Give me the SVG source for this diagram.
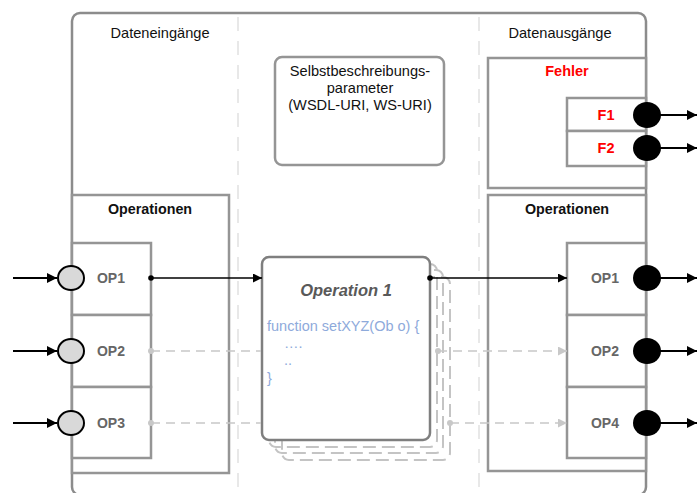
<svg xmlns="http://www.w3.org/2000/svg" width="697" height="493" viewBox="0 0 697 493">
  <defs>
    <style>
      text { font-family: "Liberation Sans", Arial, sans-serif; }
      .frame { fill: #ffffff; stroke: #8c8c8c; stroke-width: 2.5; }
      .box { fill: #ffffff; stroke: #959595; stroke-width: 2.5; }
      .divider { stroke: #e8e8e8; stroke-width: 2; stroke-dasharray: 14 10; fill: none; }
      .head { font-size: 14.6px; fill: #111111; text-anchor: middle; }
      .title { font-size: 14.3px; font-weight: bold; fill: #111111; text-anchor: middle; }
      .err { font-size: 14.5px; font-weight: bold; fill: #ff0000; text-anchor: middle; }
      .op { font-size: 14px; font-weight: bold; fill: #666666; text-anchor: middle; }
      .code { font-size: 14.5px; fill: #8eaadb; }
      .port-in { fill: #d9d9d9; stroke: #000000; stroke-width: 2; }
      .port-out { fill: #000000; }
      .io { stroke: #000000; stroke-width: 2; fill: none; }
      .flow { stroke: #000000; stroke-width: 1.3; fill: none; }
      .flow-dash { stroke: #c8c8c8; stroke-width: 1.5; stroke-dasharray: 9 6; fill: none; }
      .shadow { fill: none; stroke: #c4c4c4; stroke-width: 2; stroke-dasharray: 13 6; }
    </style>
    <marker id="arrowBlack" viewBox="0 0 10 10" refX="10" refY="5" markerWidth="9" markerHeight="9" markerUnits="userSpaceOnUse" orient="auto">
      <path d="M0,0 L10,5 L0,10 Z" fill="#000000"/>
    </marker>
    <marker id="arrowIo" viewBox="0 0 10 10" refX="10" refY="5" markerWidth="10" markerHeight="10" markerUnits="userSpaceOnUse" orient="auto">
      <path d="M0,0 L10,5 L0,10 Z" fill="#000000"/>
    </marker>
    <marker id="arrowGrey" viewBox="0 0 10 10" refX="10" refY="5" markerWidth="9" markerHeight="9" markerUnits="userSpaceOnUse" orient="auto">
      <path d="M0,0 L10,5 L0,10 Z" fill="#c8c8c8"/>
    </marker>
    <circle id="dotBlack" r="2.8" fill="#000000"/>
    <circle id="dotGrey" r="3" fill="#c8c8c8"/>
  </defs>

  <rect width="697" height="493" fill="#ffffff"/>

  <!-- outer service frame -->
  <g id="service">
    <rect class="frame" x="72" y="13" width="574" height="482" rx="8"/>
    <line class="divider" x1="238" y1="17" x2="238" y2="490"/>
    <line class="divider" x1="479" y1="17" x2="479" y2="490"/>
    <text class="head" x="160" y="38">Dateneingänge</text>
    <text class="head" x="560" y="38">Datenausgänge</text>
  </g>

  <!-- self-description parameters -->
  <g id="selbstbeschreibung">
    <rect class="box" x="275" y="57" width="169" height="108" rx="7"/>
    <text class="head" x="360" y="76">Selbstbeschreibungs-</text>
    <text class="head" x="360" y="93">parameter</text>
    <text class="head" x="360" y="110">(WSDL-URI, WS-URI)</text>
  </g>

  <!-- input operations -->
  <g id="eingang-operationen">
    <rect class="box" x="72" y="195" width="157" height="278"/>
    <text class="title" x="150" y="214">Operationen</text>
  </g>
  <g id="in-op1">
    <rect class="box" x="72" y="243" width="79" height="72"/>
    <text class="op" x="111" y="283">OP1</text>
  </g>
  <g id="in-op2">
    <rect class="box" x="72" y="315" width="79" height="72"/>
    <text class="op" x="111" y="356">OP2</text>
  </g>
  <g id="in-op3">
    <rect class="box" x="72" y="387" width="79" height="71"/>
    <text class="op" x="111" y="428">OP3</text>
  </g>

  <!-- output: errors -->
  <g id="fehler">
    <rect class="box" x="488" y="58" width="158" height="130"/>
    <text class="err" x="567" y="76">Fehler</text>
  </g>
  <g id="f1">
    <rect class="box" x="567" y="98" width="79" height="33"/>
    <text class="err" x="606" y="120">F1</text>
  </g>
  <g id="f2">
    <rect class="box" x="567" y="131" width="79" height="35"/>
    <text class="err" x="606" y="153">F2</text>
  </g>

  <!-- output operations -->
  <g id="ausgang-operationen">
    <rect class="box" x="488" y="195" width="158" height="276"/>
    <text class="title" x="567" y="214">Operationen</text>
  </g>
  <g id="out-op1">
    <rect class="box" x="567" y="243" width="79" height="72"/>
    <text class="op" x="605" y="283">OP1</text>
  </g>
  <g id="out-op2">
    <rect class="box" x="567" y="315" width="79" height="72"/>
    <text class="op" x="605" y="356">OP2</text>
  </g>
  <g id="out-op4">
    <rect class="box" x="567" y="387" width="79" height="71"/>
    <text class="op" x="605" y="428">OP4</text>
  </g>

  <!-- implementation of the operation, with stacked copies -->
  <g id="operation1">
    <rect class="shadow" x="282" y="277" width="168" height="183" rx="7"/>
    <rect class="shadow" x="275" y="270" width="168" height="183" rx="7"/>
    <rect class="shadow" x="269" y="264" width="168" height="183" rx="7"/>
    <rect x="262" y="257" width="168" height="183" rx="7" fill="#ffffff" stroke="#7f7f7f" stroke-width="2.5"/>
    <text x="346" y="296" font-size="16.5" font-weight="bold" font-style="italic" fill="#595959" text-anchor="middle">Operation 1</text>
    <text class="code" x="267" y="331">function setXYZ(Ob o) {</text>
    <text class="code" x="284" y="348">….</text>
    <text class="code" x="284" y="365">..</text>
    <text class="code" x="267" y="383">}</text>
  </g>

  <!-- connectors -->
  <g id="connectors">
    <!-- inputs -->
    <line class="io" x1="13" y1="278" x2="57" y2="278" marker-end="url(#arrowIo)"/>
    <line class="io" x1="13" y1="351" x2="57" y2="351" marker-end="url(#arrowIo)"/>
    <line class="io" x1="13" y1="423" x2="57" y2="423" marker-end="url(#arrowIo)"/>

    <!-- OP1 data flow -->
    <line class="flow" x1="151" y1="278" x2="262" y2="278" marker-end="url(#arrowBlack)"/>
    <use href="#dotBlack" x="151" y="278"/>
    <line class="flow" x1="430" y1="278" x2="567" y2="278" marker-end="url(#arrowBlack)"/>
    <use href="#dotBlack" x="430" y="278"/>

    <!-- OP2 / OP3 data flow -->
    <line class="flow-dash" x1="151" y1="351" x2="261" y2="351"/>
    <use href="#dotGrey" x="151" y="351"/>
    <line class="flow-dash" x1="438" y1="351" x2="567" y2="351" marker-end="url(#arrowGrey)"/>
    <use href="#dotGrey" x="438" y="351"/>
    <line class="flow-dash" x1="151" y1="423" x2="261" y2="423"/>
    <use href="#dotGrey" x="151" y="423"/>
    <line class="flow-dash" x1="450" y1="423" x2="567" y2="423" marker-end="url(#arrowGrey)"/>
    <use href="#dotGrey" x="450" y="423"/>

    <!-- outputs -->
    <line class="io" x1="658" y1="115" x2="697" y2="115" marker-end="url(#arrowIo)"/>
    <line class="io" x1="658" y1="148" x2="697" y2="148" marker-end="url(#arrowIo)"/>
    <line class="io" x1="658" y1="278" x2="697" y2="278" marker-end="url(#arrowIo)"/>
    <line class="io" x1="658" y1="351" x2="697" y2="351" marker-end="url(#arrowIo)"/>
    <line class="io" x1="658" y1="423" x2="697" y2="423" marker-end="url(#arrowIo)"/>
  </g>

  <!-- ports -->
  <g id="ports">
    <ellipse class="port-in" cx="71" cy="278" rx="13" ry="12"/>
    <ellipse class="port-in" cx="71" cy="351" rx="13" ry="12"/>
    <ellipse class="port-in" cx="71" cy="423" rx="13" ry="12"/>
    <ellipse class="port-out" cx="647" cy="115" rx="14" ry="13"/>
    <ellipse class="port-out" cx="647" cy="148" rx="14" ry="13"/>
    <ellipse class="port-out" cx="647" cy="278" rx="14" ry="13"/>
    <ellipse class="port-out" cx="647" cy="351" rx="14" ry="13"/>
    <ellipse class="port-out" cx="647" cy="423" rx="14" ry="13"/>
  </g>
</svg>
